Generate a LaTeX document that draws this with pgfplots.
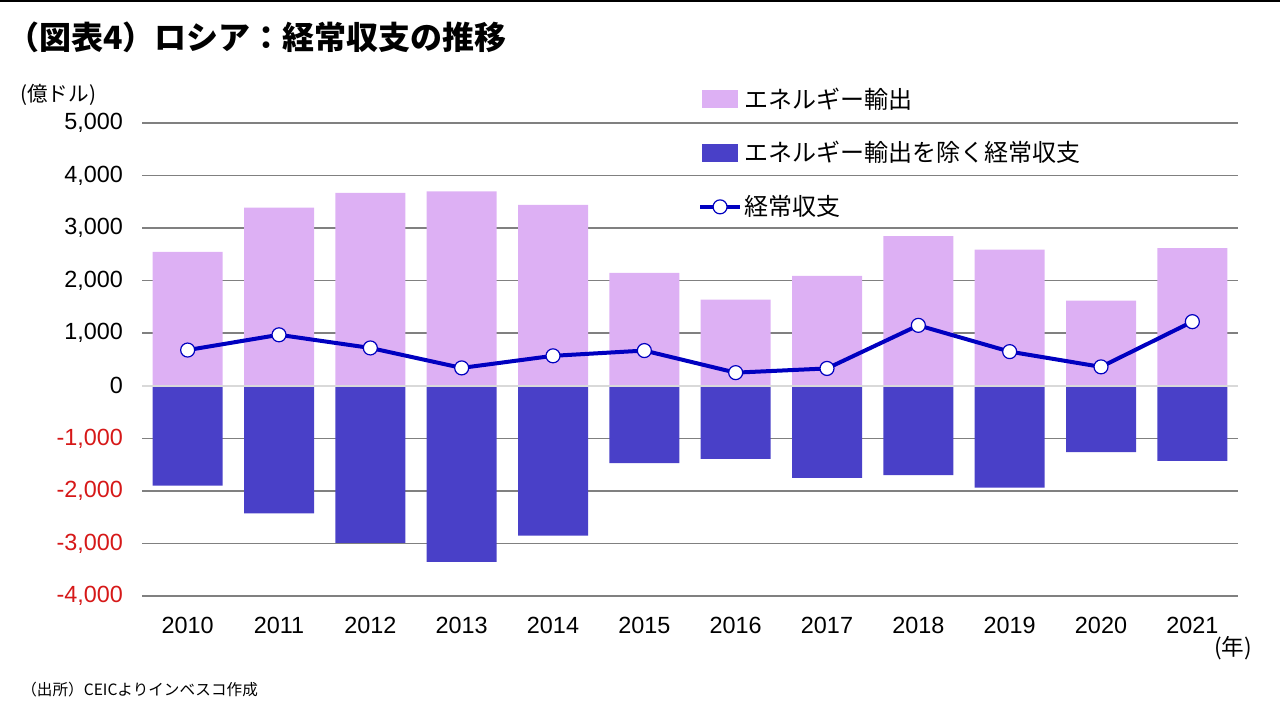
\documentclass[border=0pt]{standalone}
\usepackage{pgfplots}
\pgfplotsset{compat=1.18}
\usepackage{fontspec}
\setmainfont{Liberation Sans}
\newfontfamily\cjk{Noto Sans CJK JP}
\definecolor{energy}{RGB}{221,176,244}
\definecolor{nonenergy}{RGB}{73,64,200}
\definecolor{caline}{RGB}{0,0,192}
\definecolor{gridgray}{RGB}{128,128,128}
\definecolor{zerogray}{RGB}{217,217,217}
\definecolor{negred}{RGB}{214,24,24}
\pgfplotstableread{
x energy nonenergy ca
0 2550 -1900 680
1 3390 -2430 970
2 3670 -2990 720
3 3700 -3350 340
4 3440 -2850 570
5 2150 -1470 670
6 1640 -1390 250
7 2090 -1750 330
8 2850 -1700 1150
9 2590 -1940 650
10 1620 -1260 360
11 2620 -1430 1220
}\datatable
\begin{document}
\begin{tikzpicture}
\path[use as bounding box] (0pt,0pt) rectangle (640pt,360pt);
\draw[black, line width=0.8pt] (0pt,359.5pt) -- (640pt,359.5pt);
\node[anchor=west, font=\cjk\bfseries\fontsize{16}{18}\selectfont, inner sep=0pt] at (3.5pt,341.5pt) {（図表4）ロシア：経常収支の推移};
\node[anchor=west, font=\cjk\fontsize{10.3}{12}\selectfont, inner sep=0pt] at (10pt,312.5pt) {(億ドル)};
\node[anchor=center, font=\cjk\fontsize{11.3}{13}\selectfont, inner sep=0pt] at (616.5pt,36pt) {(年)};
\node[anchor=west, font=\cjk\fontsize{7.8}{10}\selectfont, inner sep=0pt] at (10.5pt,15pt) {（出所）CEICよりインベスコ作成};
\begin{axis}[
  at={(71pt,62pt)}, anchor=south west,
  scale only axis, width=548pt, height=236.5pt,
  xmin=-0.5, xmax=11.5, ymin=-4000, ymax=5000,
  axis line style={draw=none},
  major tick length=0pt,
  xtick={0,...,11},
  xticklabels={2010,2011,2012,2013,2014,2015,2016,2017,2018,2019,2020,2021},
  ytick={-4000,-3000,-2000,-1000,0,1000,2000,3000,4000,5000},
  yticklabels={\textcolor{negred}{-4,000},\textcolor{negred}{-3,000},\textcolor{negred}{-2,000},\textcolor{negred}{-1,000},0,{1,000},{2,000},{3,000},{4,000},{5,000}},
  tick label style={font=\fontsize{11.7}{13}\selectfont},
  yticklabel style={xshift=-6pt},
  xticklabel style={yshift=-7pt},
  ymajorgrids, major grid style={gridgray, line width=0.8pt},
  legend style={draw=none, fill=none, inner sep=0pt, at={(axis description cs:0.507,1.080)}, anchor=north west,
    font=\cjk\fontsize{12}{14}\selectfont, row sep=13.2pt,
    nodes={inner sep=1pt, anchor=west}},
  legend cell align=left,
  clip=false,
]
\addplot[ybar, bar width=35pt, bar shift=0pt, fill=energy, draw=none,
  legend image code/.code={\fill[energy] (0pt,-4.5pt) rectangle (18pt,4.5pt);}]
  table[x=x, y=energy] {\datatable};
\addlegendentry{エネルギー輸出}
\addplot[ybar, bar width=35pt, bar shift=0pt, fill=nonenergy, draw=none,
  legend image code/.code={\fill[nonenergy] (0pt,-4.5pt) rectangle (18pt,4.5pt);}]
  table[x=x, y=nonenergy] {\datatable};
\addlegendentry{エネルギー輸出を除く経常収支}
\draw[zerogray, line width=0.8pt] (axis cs:-0.5,0) -- (axis cs:11.5,0);
\addplot[caline, line width=2pt, mark=*, mark size=3.5pt,
  mark options={fill=white, draw=caline, line width=0.6pt},
  legend image code/.code={\draw[caline, line width=2pt] (-1pt,0pt) -- (19pt,0pt); \draw[caline, fill=white, line width=0.6pt] (9pt,0pt) circle (3.5pt);}]
  table[x=x, y=ca] {\datatable};
\addlegendentry{経常収支}
\end{axis}
\end{tikzpicture}
\end{document}
